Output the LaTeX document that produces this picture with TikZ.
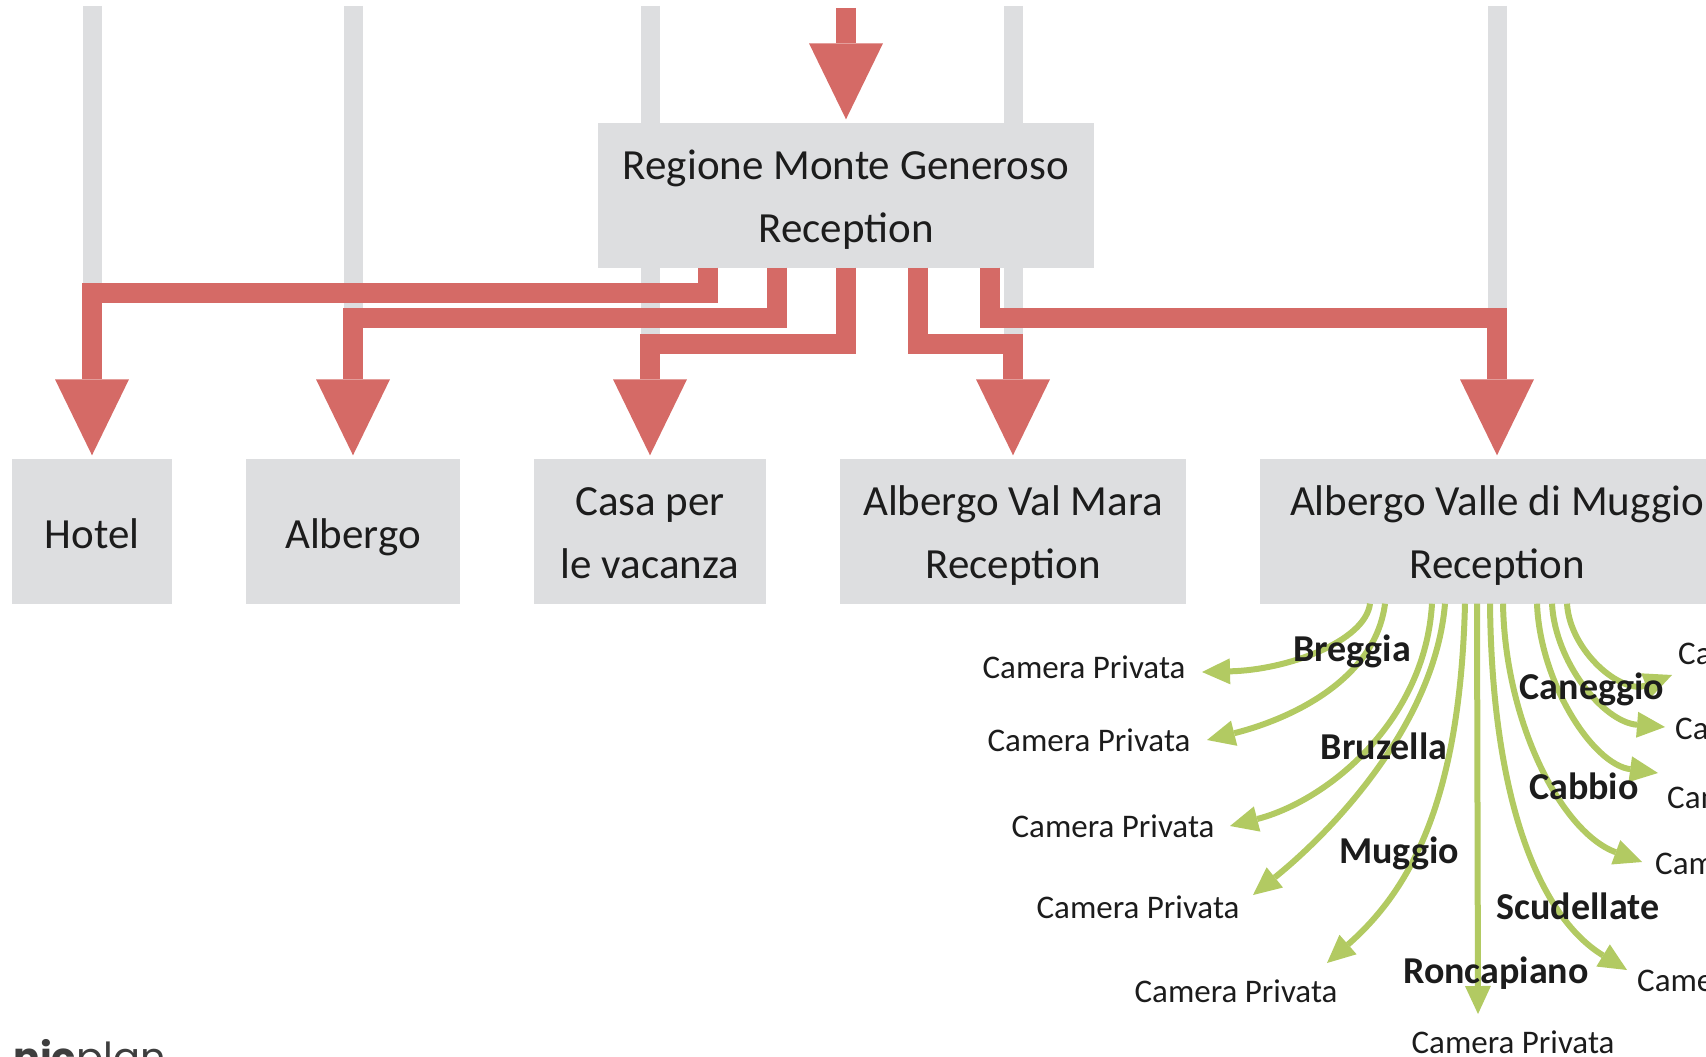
\documentclass[tikz,border=0pt]{standalone}
\usepackage{fontspec}
\setmainfont{Carlito}
\newfontfamily\logofont{Poppins}
\usetikzlibrary{arrows.meta, positioning, backgrounds}
\definecolor{FlowRed}{HTML}{D56A66}
\definecolor{BoxGray}{HTML}{DDDEE0}
\definecolor{BranchGreen}{HTML}{B2CA62}
\definecolor{InkDark}{HTML}{1C1C1C}
% struts that fix the two-line box text
\newcommand{\boxtop}{\rule{0pt}{40pt}}
\newcommand{\boxbot}{\rule[-9pt]{0pt}{9pt}}
\tikzset{
  % Box styles
  receptionbox/.style={rectangle, fill=BoxGray, inner sep=0pt, minimum height=145pt, align=center, text=InkDark, font=\fontsize{43}{63}\selectfont},
  singlebox/.style={receptionbox, text height=34pt, text depth=0pt},
  % Label styles
  roomlabel/.style={inner sep=0pt, text=InkDark, font=\fontsize{33}{33}\selectfont},
  villagelabel/.style={inner sep=0pt, text=InkDark, font=\bfseries\fontsize{38}{38}\selectfont},
  logolabel/.style={inner sep=0pt, text=InkDark!85, font=\logofont\fontsize{40}{40}\selectfont},
  % Arrow styles
  redflow/.style={draw=FlowRed, line width=20pt, -{Triangle[width=74pt, length=76pt, line width=0pt]}, shorten >=3pt},
  branch/.style={draw=BranchGreen, line width=6pt, -{Triangle[width=26pt, length=28pt, line width=0pt]}},
  guide/.style={draw=BoxGray, line width=19pt}
}

\begin{document}
\begin{tikzpicture}[x=1pt, y=-1pt]
  \useasboundingbox (0,0) rectangle (1706,1057);
  \clip (0,0) rectangle (1706,1057);

  % Reception boxes
  \node[receptionbox, minimum width=496pt] (region) at (846,195) {\boxtop Regione Monte Generoso\\Reception\boxbot};
  \node[singlebox, minimum width=160pt] (hotel) at (92,531) {Hotel};
  \node[singlebox, minimum width=214pt] (albergo) at (353,531) {Albergo};
  \node[receptionbox, minimum width=232pt] (casa) at (650,531) {\boxtop Casa per\\le vacanza\boxbot};
  \node[receptionbox, minimum width=346pt] (valmara) at (1013,531) {\boxtop Albergo Val Mara\\Reception\boxbot};
  \node[receptionbox, minimum width=474pt] (valle) at (1497,531) {\boxtop Albergo Valle di Muggio\\Reception\boxbot};

  % Guide lines behind the boxes
  \coordinate (ceiling) at (0,6);
  \begin{scope}[on background layer]
    \foreach \dst/\lvl in {hotel/292, albergo/317, casa/343, valmara/343, valle/317} {
      \draw[guide] (\dst.north |- ceiling) -- ++(0,\lvl-6);
    }
  \end{scope}

  % Red flows
  \coordinate (inflow) at (846,8);
  \draw[redflow] (inflow) -- (region.north);
  \foreach \dx/\lvl/\dst in {-138/25/hotel, -69/50/albergo, 0/76/casa, 72/76/valmara, 144/50/valle} {
    \draw[redflow] ([xshift=\dx pt]region.south) -- ++(0,\lvl) -| (\dst.north);
  }

  % Room labels
  \node[roomlabel] (room1) at (1084,667) {Camera Privata};
  \node[roomlabel] (room2) at (1089,740) {Camera Privata};
  \node[roomlabel] (room3) at (1113,826) {Camera Privata};
  \node[roomlabel] (room4) at (1138,907) {Camera Privata};
  \node[roomlabel] (room5) at (1236,991) {Camera Privata};
  \node[roomlabel] (room6) at (1513,1042) {Camera Privata};
  \node[roomlabel, anchor=west] (room7) at (1637,980) {Camera Privata};
  \node[roomlabel, anchor=west] (room8) at (1655,863) {Camera Privata};
  \node[roomlabel, anchor=west] (room9) at (1667,797) {Camera Privata};
  \node[roomlabel, anchor=west] (room10) at (1675,728) {Camera Privata};
  \node[roomlabel, anchor=west] (room11) at (1678,653) {Camera Privata};

  % Green branches
  \draw[branch] ([xshift=-127pt]valle.south) .. controls +(-5,38) and +(85,-2) .. ([shift={(118,5)}]room1.center);
  \draw[branch] ([xshift=-112pt]valle.south) .. controls +(-10,78) and +(80,-20) .. ([shift={(118,0)}]room2.center);
  \draw[branch] ([xshift=-65pt]valle.south) .. controls +(-7,118) and +(97,-25) .. ([shift={(117,0)}]room3.center);
  \draw[branch] ([xshift=-52pt]valle.south) .. controls +(-10,118) and +(83,-67) .. ([shift={(115,-12)}]room4.center);
  \draw[branch] ([xshift=-32pt]valle.south) .. controls +(-5,198) and +(83,-73) .. ([shift={(91,-28)}]room5.center);
  \draw[branch] ([xshift=-20pt]valle.south) -- ([shift={(-35,-28)}]room6.center);
  \draw[branch] ([xshift=-7pt]valle.south) .. controls +(2,198) and +(-87,-53) .. ([shift={(-10,-10)}]room7.west);
  \draw[branch] ([xshift=6pt]valle.south) .. controls +(2,118) and +(-81,-30) .. ([shift={(-13,-1)}]room8.west);
  \draw[branch] ([xshift=40pt]valle.south) .. controls +(3,78) and +(-66,-9) .. ([shift={(-9,-24)}]room9.west);
  \draw[branch] ([xshift=55pt]valle.south) .. controls +(3,58) and +(-62,-5) .. ([shift={(-10,-1)}]room10.west);
  \draw[branch] ([xshift=70pt]valle.south) .. controls +(3,48) and +(-50,20) .. ([shift={(-6,22)}]room11.west);

  % Village labels
  \node[villagelabel] (breggia) at (1352,651) {Breggia};
  \node[villagelabel] (caneggio) at (1592,689) {Caneggio};
  \node[villagelabel] (bruzella) at (1384,746) {Bruzella};
  \node[villagelabel] (cabbio) at (1584,786) {Cabbio};
  \node[villagelabel] (muggio) at (1399,853) {Muggio};
  \node[villagelabel] (scudellate) at (1578,906) {Scudellate};
  \node[villagelabel] (roncapiano) at (1496,973) {Roncapiano};

  % Logo
  \node[logolabel, anchor=base west] (brand) at (13,1071) {\textbf{nic}plan};
\end{tikzpicture}
\end{document}
